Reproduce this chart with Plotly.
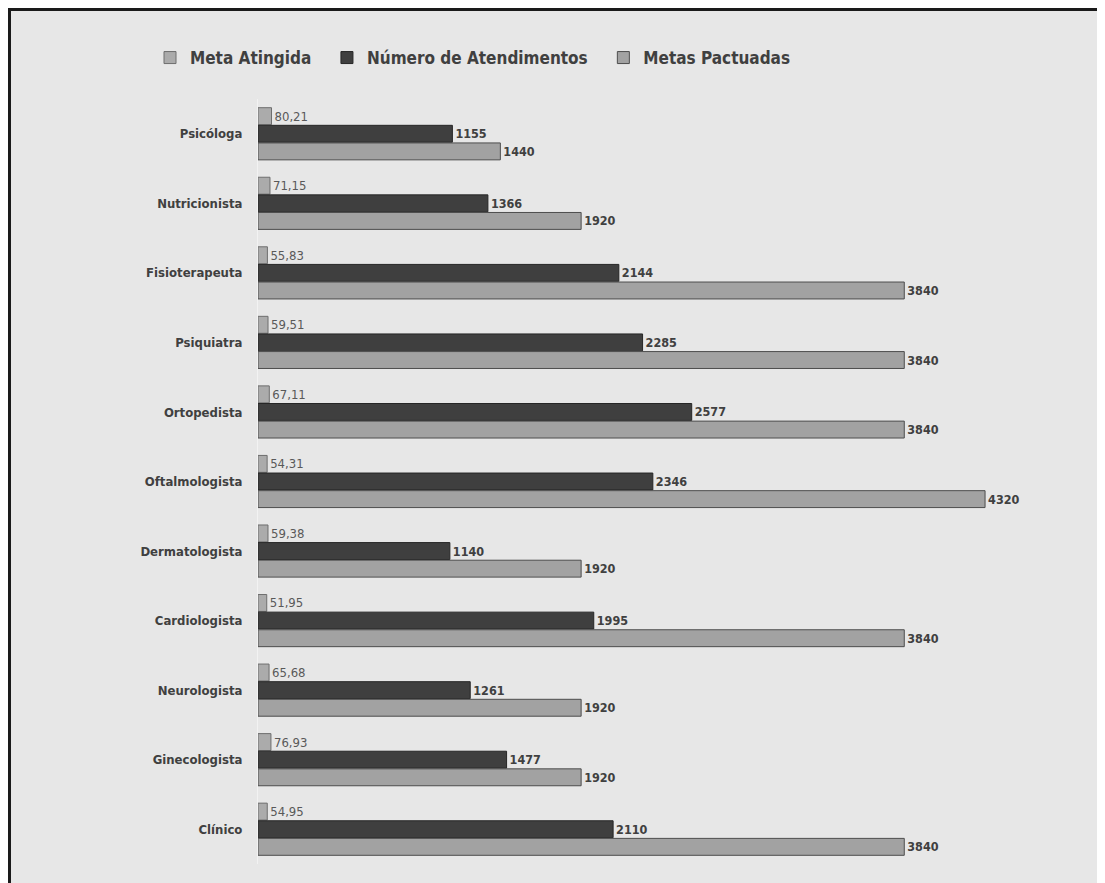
import plotly.graph_objects as go

categories = ["Psicóloga", "Nutricionista", "Fisioterapeuta", "Psiquiatra", "Ortopedista",
              "Oftalmologista", "Dermatologista", "Cardiologista", "Neurologista",
              "Ginecologista", "Clínico"]
meta_atingida = [80.21, 71.15, 55.83, 59.51, 67.11, 54.31, 59.38, 51.95, 65.68, 76.93, 54.95]
num_atendimentos = [1155, 1366, 2144, 2285, 2577, 2346, 1140, 1995, 1261, 1477, 2110]
metas_pactuadas = [1440, 1920, 3840, 3840, 3840, 4320, 1920, 3840, 1920, 1920, 3840]
series_names = ["Meta Atingida", "Número de Atendimentos", "Metas Pactuadas"]

W, H = 1105, 883
OFF = 8  # browser body margin
L, T = 258 - OFF, 99 - OFF
PW = 837
PH = 765
R = W - L - PW
B = H - T - PH

FONT = "DejaVu Sans Condensed, Open Sans, sans-serif"

fig = go.Figure()
fig.add_trace(go.Bar(
    y=categories, x=meta_atingida, orientation="h", name=series_names[0] + "\u00a0\u00a0",
    marker=dict(color="#ababab", line=dict(color="#6e6e6e", width=1)),
    text=[f"{v:.2f}".replace(".", ",") for v in meta_atingida],
    textposition="outside", cliponaxis=False,
    textfont=dict(family=FONT, size=13, color="#595959"),
))
fig.add_trace(go.Bar(
    y=categories, x=num_atendimentos, orientation="h", name=series_names[1] + "\u00a0\u00a0",
    marker=dict(color="#3f3f3f", line=dict(color="#262626", width=1)),
    text=[str(v) for v in num_atendimentos],
    textposition="outside", cliponaxis=False,
    textfont=dict(family=FONT, size=12.5, color="#404040", weight="bold"),
))
fig.add_trace(go.Bar(
    y=categories, x=metas_pactuadas, orientation="h", name=series_names[2],
    marker=dict(color="#a2a2a2", line=dict(color="#4d4d4d", width=1)),
    text=[str(v) for v in metas_pactuadas],
    textposition="outside", cliponaxis=False,
    textfont=dict(family=FONT, size=12.5, color="#404040", weight="bold"),
))

def px_x(p):
    return (p - OFF - L) / PW

def px_y(p):
    return (T + PH - (p - OFF)) / PH

fig.update_layout(
    width=W, height=H,
    margin=dict(l=L, r=R, t=T, b=B, pad=0),
    paper_bgcolor="white",
    plot_bgcolor="rgba(0,0,0,0)",
    barmode="group",
    bargap=0.24,
    bargroupgap=0.04,
    showlegend=True,
    legend=dict(
        orientation="h", x=px_x(150), y=px_y(58), xanchor="left", yanchor="middle",
        font=dict(family=FONT, size=17, color="#404040", weight="bold"),
        bgcolor="rgba(0,0,0,0)", traceorder="normal",
    ),
    xaxis=dict(range=[0, PW / 0.1683], showgrid=False, zeroline=False,
               showticklabels=False, showline=False, fixedrange=True),
    yaxis=dict(autorange="reversed", showgrid=False, zeroline=False,
               showline=True, linecolor="#f2f2f2", linewidth=1,
               ticks="", ticklabelstandoff=12,
               tickfont=dict(family=FONT, size=13, color="#404040", weight="bold"),
               fixedrange=True),
    shapes=[dict(type="rect", xref="paper", yref="paper",
                 x0=px_x(9.5), x1=px_x(W + 60), y0=px_y(H + 60), y1=px_y(9.5),
                 fillcolor="#e7e7e7", line=dict(color="#1a1a1a", width=3), layer="below")],
    hovermode=False,
)

fig.write_html("out.html", config={"displayModeBar": False})
